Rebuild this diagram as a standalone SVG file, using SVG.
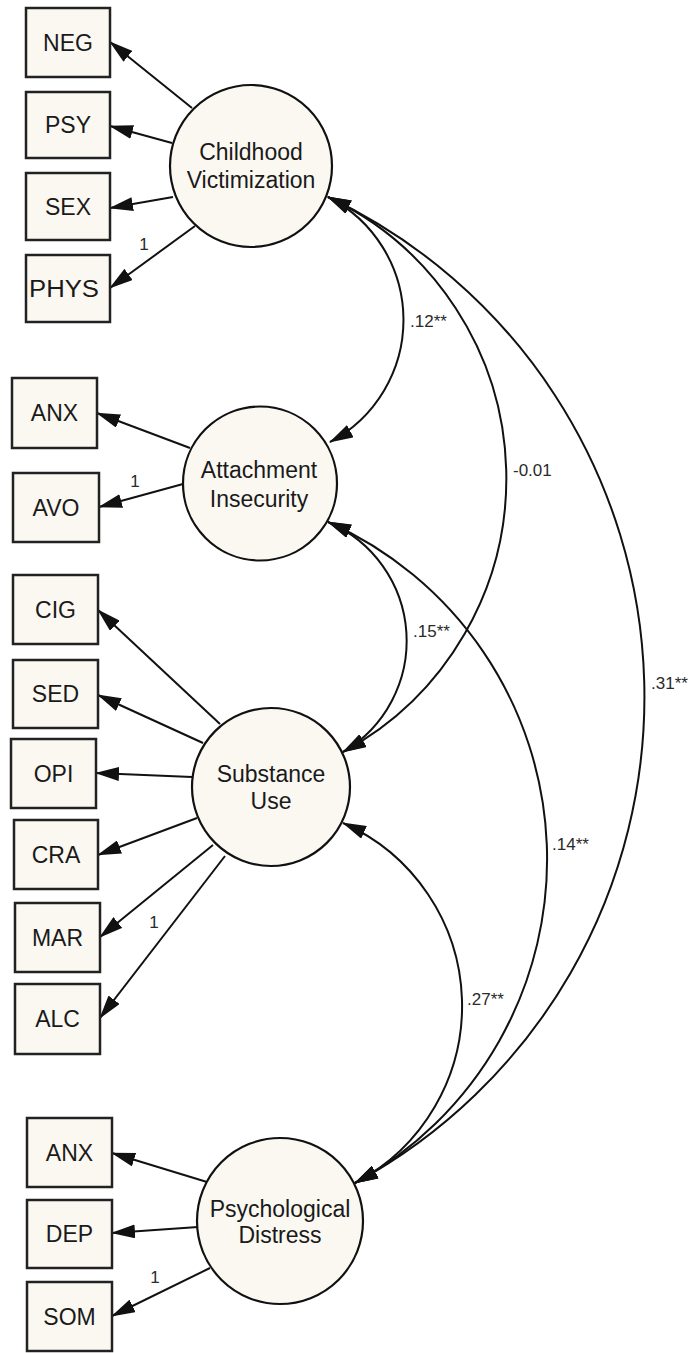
<svg xmlns="http://www.w3.org/2000/svg" width="695" height="1353" viewBox="0 0 695 1353">
<defs>
<marker id="ah" viewBox="0 0 24 14" refX="23" refY="7" markerWidth="24" markerHeight="14" markerUnits="userSpaceOnUse" orient="auto-start-reverse">
<path d="M0,0 L24,7 L0,14 z" fill="#111"/>
</marker>
<style>
.box{fill:#fbf8f2;stroke:#222;stroke-width:2.5}
.lat{fill:#fbf8f2;stroke:#111;stroke-width:2.2}
.t{font-family:"Liberation Sans",Arial,sans-serif;font-size:23px;fill:#1a1a1a;text-anchor:middle}
.c{font-family:"Liberation Sans",Arial,sans-serif;font-size:17px;fill:#2a2a2a}
.one{font-family:"Liberation Sans",Arial,sans-serif;font-size:17px;fill:#2a2a2a;text-anchor:middle}
.ld{stroke:#111;stroke-width:2;fill:none;marker-end:url(#ah)}
.cv{stroke:#111;stroke-width:2;fill:none;marker-start:url(#ah);marker-end:url(#ah)}
</style>
</defs>
<rect width="695" height="1353" fill="#fff"/>
<g id="connectors">
<line class="ld" x1="192" y1="108" x2="110" y2="42"/>
<line class="ld" x1="172" y1="143" x2="110" y2="126"/>
<line class="ld" x1="173" y1="197" x2="110" y2="208"/>
<line class="ld" x1="195" y1="226" x2="110" y2="288"/>
<line class="ld" x1="190" y1="448" x2="97" y2="413"/>
<line class="ld" x1="183" y1="484" x2="99" y2="507"/>
<line class="ld" x1="220" y1="724" x2="98" y2="610"/>
<line class="ld" x1="203" y1="743" x2="98" y2="695"/>
<line class="ld" x1="192" y1="777" x2="96" y2="773"/>
<line class="ld" x1="197" y1="818" x2="98" y2="855"/>
<line class="ld" x1="213" y1="845" x2="100" y2="937"/>
<line class="ld" x1="225" y1="856" x2="100" y2="1018"/>
<line class="ld" x1="207" y1="1182" x2="112" y2="1153"/>
<line class="ld" x1="198" y1="1227" x2="112" y2="1233"/>
<line class="ld" x1="210" y1="1268" x2="112" y2="1316"/>
<path class="cv" d="M328,197 A138,138 0 0 1 330,442"/>
<path class="cv" d="M328,197 A311,311 0 0 1 343,752"/>
<path class="cv" d="M328,197 A553,553 0 0 1 355,1183"/>
<path class="cv" d="M328,522 A129,129 0 0 1 343,752"/>
<path class="cv" d="M328,522 A369,369 0 0 1 355,1183"/>
<path class="cv" d="M343,823 A200,200 0 0 1 355,1183"/>
<text class="c" x="410" y="327">.12**</text>
<text class="c" x="513" y="476">-0.01</text>
<text class="c" x="413" y="637">.15**</text>
<text class="c" x="651" y="689">.31**</text>
<text class="c" x="552" y="850">.14**</text>
<text class="c" x="467" y="1005">.27**</text>
<text class="one" x="144" y="250">1</text>
<text class="one" x="135" y="487">1</text>
<text class="one" x="154" y="928">1</text>
<text class="one" x="155" y="1283">1</text>
</g>
<g id="cv"><circle class="lat" cx="251" cy="166" r="81"/><text class="t" x="251" y="160">Childhood</text><text class="t" x="251" y="188">Victimization</text></g>
<g id="ai"><circle class="lat" cx="260" cy="483.5" r="77"/><text class="t" x="259" y="478">Attachment</text><text class="t" x="259" y="507">Insecurity</text></g>
<g id="su"><circle class="lat" cx="271" cy="787" r="79"/><text class="t" x="271" y="782">Substance</text><text class="t" x="271" y="809">Use</text></g>
<g id="pd"><circle class="lat" cx="280" cy="1221" r="83"/><text class="t" x="280" y="1217">Psychological</text><text class="t" x="280" y="1243">Distress</text></g>
<g id="neg"><rect class="box" x="26" y="8" width="84" height="69"/><text class="t" x="68" y="51">NEG</text></g>
<g id="psy"><rect class="box" x="26" y="92" width="84" height="66"/><text class="t" x="68" y="133">PSY</text></g>
<g id="sex"><rect class="box" x="26" y="173" width="84" height="67"/><text class="t" x="68" y="215">SEX</text></g>
<g id="phys"><rect class="box" x="26" y="255" width="84" height="67"/><text class="t" x="64" y="297" textLength="70" lengthAdjust="spacingAndGlyphs">PHYS</text></g>
<g id="anx1"><rect class="box" x="12" y="378" width="85" height="70"/><text class="t" x="54.5" y="421">ANX</text></g>
<g id="avo"><rect class="box" x="13" y="473" width="86" height="69"/><text class="t" x="56" y="516">AVO</text></g>
<g id="cig"><rect class="box" x="13" y="575" width="85" height="69"/><text class="t" x="55.5" y="618">CIG</text></g>
<g id="sed"><rect class="box" x="13" y="660" width="85" height="68"/><text class="t" x="55.5" y="702">SED</text></g>
<g id="opi"><rect class="box" x="11" y="739" width="85" height="69"/><text class="t" x="53.5" y="782">OPI</text></g>
<g id="cra"><rect class="box" x="14" y="820" width="84" height="69"/><text class="t" x="56" y="863">CRA</text></g>
<g id="mar"><rect class="box" x="15" y="903" width="85" height="69"/><text class="t" x="57.5" y="946">MAR</text></g>
<g id="alc"><rect class="box" x="15" y="984" width="85" height="70"/><text class="t" x="57.5" y="1027">ALC</text></g>
<g id="anx2"><rect class="box" x="27" y="1118" width="85" height="69"/><text class="t" x="69.5" y="1161">ANX</text></g>
<g id="dep"><rect class="box" x="27" y="1200" width="85" height="68"/><text class="t" x="69.5" y="1242">DEP</text></g>
<g id="som"><rect class="box" x="27" y="1282" width="85" height="69"/><text class="t" x="69.5" y="1325">SOM</text></g>
</svg>
